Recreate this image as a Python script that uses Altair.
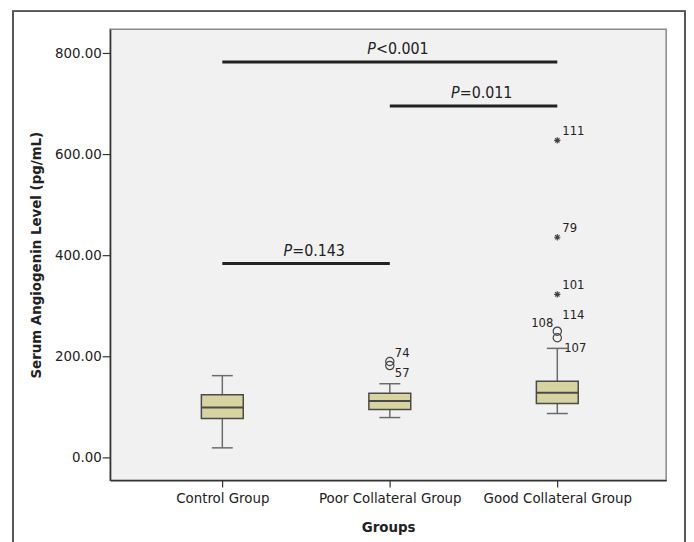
import altair as alt
import pandas as pd

# ---- data ----
groups = ["Control Group", "Poor Collateral Group", "Good Collateral Group"]
group_pos = [0, 1, 2]
lower_whisker = [18, 78, 86]
q1 = [76, 94, 106]
median = [98, 111, 127]
q3 = [123, 126, 150]
upper_whisker = [161, 145, 215]

outlier_group = [1, 1, 2, 2, 2, 2, 2]
outlier_value = [189, 181, 627, 435, 322, 249, 236]
outlier_id = ["74", "57", "111", "79", "101", "114", "108"]
outlier_kind = ["circle", "circle", "star", "star", "star", "circle", "circle"]
outlier_label_place = ["ur", "lr", "ur", "ur", "ur", "uur", "ul"]

extra_label_group = [2]
extra_label_value = [215]
extra_label_id = ["107"]

bracket_from = [0, 1, 0]
bracket_to = [2, 2, 1]
bracket_value = [782, 695, 383]
bracket_text = ["<0.001", "=0.011", "=0.143"]

FONT = "Liberation Sans Narrow, DejaVu Sans Condensed, Roboto, sans-serif"

box_df = pd.DataFrame({
    "pos": group_pos, "lw": lower_whisker, "q1": q1, "med": median,
    "q3": q3, "uw": upper_whisker,
})
out_df = pd.DataFrame({
    "pos": outlier_group, "value": outlier_value, "id": outlier_id,
    "kind": outlier_kind, "place": outlier_label_place,
})
extra_df = pd.DataFrame({"pos": extra_label_group, "value": extra_label_value,
                         "id": extra_label_id, "place": ["r"]})
lab_df = pd.concat([out_df[["pos", "value", "id", "place"]], extra_df], ignore_index=True)
br_df = pd.DataFrame({"a": bracket_from, "b": bracket_to, "value": bracket_value,
                      "txt": bracket_text})

xs = alt.Scale(domain=[-0.67, 2.65], nice=False, zero=False)
ys = alt.Scale(domain=[-46, 847], nice=False, zero=False)

label_expr = "[" + ",".join("'" + g + "'" for g in groups) + "][datum.value]"
x_axis = alt.Axis(values=group_pos, labelExpr=label_expr, title="Groups",
                  grid=False, tickSize=7, labelPadding=4, titlePadding=14)
y_axis = alt.Axis(values=[0, 200, 400, 600, 800], format=".2f",
                  title="Serum Angiogenin Level (pg/mL)", grid=False,
                  tickSize=8, labelPadding=1, titlePadding=11)


def X(field):
    return alt.X(field, type="quantitative", scale=xs, axis=x_axis)


def Y(field):
    return alt.Y(field, type="quantitative", scale=ys, axis=y_axis)


base = alt.Chart(box_df).transform_calculate(
    xl="datum.pos - 0.125", xr="datum.pos + 0.125",
    cl="datum.pos - 0.0625", cr="datum.pos + 0.0625",
)

whisker = base.mark_rule(color="#6b6b6b", strokeWidth=1.5).encode(
    x=X("pos"), y=Y("lw"), y2="uw")
cap_lo = base.mark_rule(color="#6b6b6b", strokeWidth=1.5).encode(
    x=X("cl"), x2="cr", y=Y("lw"))
cap_hi = base.mark_rule(color="#6b6b6b", strokeWidth=1.5).encode(
    x=X("cl"), x2="cr", y=Y("uw"))
box = base.mark_rect(fill="#D7D4A2", stroke="#4a4a4a", strokeWidth=1.5).encode(
    x=X("xl"), x2="xr", y=Y("q1"), y2="q3")
med = base.mark_rule(color="#4a4a4a", strokeWidth=2).encode(
    x=X("xl"), x2="xr", y=Y("med"))

circles = alt.Chart(out_df).transform_filter("datum.kind == 'circle'").mark_point(
    shape="circle", filled=False, size=70, stroke="#444444", strokeWidth=1.2, opacity=1
).encode(x=X("pos"), y=Y("value"))

asterisk = "M-1,0L1,0M0,-1L0,1M-0.7,-0.7L0.7,0.7M-0.7,0.7L0.7,-0.7"
stars = alt.Chart(out_df).transform_filter("datum.kind == 'star'").mark_point(
    shape=asterisk, filled=False, size=40, stroke="#444444", strokeWidth=1.2, opacity=1
).encode(x=X("pos"), y=Y("value"))

places = {
    "ur": dict(dx=5, dy=-9, align="left"),
    "lr": dict(dx=5, dy=8, align="left"),
    "uur": dict(dx=5, dy=-16, align="left"),
    "ul": dict(dx=-4, dy=-15, align="right"),
    "r": dict(dx=7, dy=0, align="left"),
}
label_layers = []
for key, opt in places.items():
    label_layers.append(
        alt.Chart(lab_df).transform_filter(f"datum.place == '{key}'").mark_text(
            font=FONT, fontSize=13, color="#222222", baseline="middle", **opt
        ).encode(x=X("pos"), y=Y("value"), text="id:N")
    )

br_base = alt.Chart(br_df).transform_calculate(mid="(datum.a + datum.b) / 2")
br_rule = br_base.mark_rule(color="#222222", strokeWidth=3).encode(
    x=X("a"), x2="b", y=Y("value"))
br_p = br_base.mark_text(font=FONT, fontSize=16, fontStyle="italic", color="#222222",
                         align="right", baseline="alphabetic", dx=-14, dy=-8).encode(
    x=X("mid"), y=Y("value"), text=alt.value("P"))
br_t = br_base.mark_text(font=FONT, fontSize=16, color="#222222",
                         align="left", baseline="alphabetic", dx=-14, dy=-8).encode(
    x=X("mid"), y=Y("value"), text="txt:N")

frame = alt.Chart(box_df).mark_rect(fill="white", fillOpacity=0, stroke="#555555",
                                     strokeWidth=1.5).encode(
    x=alt.value(-98), x2=alt.value(580), y=alt.value(-18), y2=alt.value(540))

chart = alt.layer(
    frame, whisker, cap_lo, cap_hi, box, med, circles, stars, *label_layers,
    br_rule, br_p, br_t,
).properties(
    width=561, height=455,
    autosize=alt.AutoSizeParams(type="none"),
    padding={"left": 103, "top": 19, "right": 20, "bottom": 60},
    background="white",
).configure_view(
    fill="#F1F1F1", stroke="#888888", strokeWidth=1.5,
).configure_axis(
    labelFont=FONT, labelFontSize=15, labelColor="#222222",
    titleFont=FONT, titleFontSize=15, titleFontWeight="bold", titleColor="#222222",
    domainColor="#333333", domainWidth=1.5, tickColor="#333333", tickWidth=1.2,
)

chart.save("out.html", embed_options={"renderer": "svg", "actions": False})
